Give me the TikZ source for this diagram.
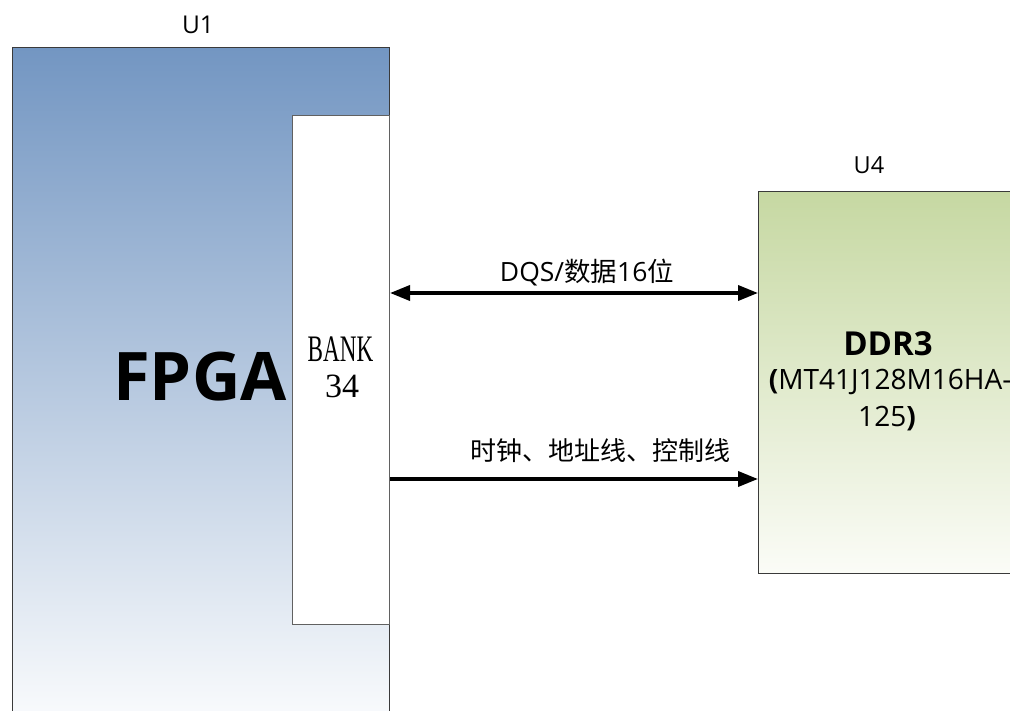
\documentclass[tikz,border=0pt]{standalone}
\usepackage{fontspec}
\setmainfont{Open Sans}
\newfontfamily\cjk{Noto Sans CJK SC}
\newfontfamily\serifbank{Liberation Serif}
\usetikzlibrary{arrows.meta}
\definecolor{fpgatop}{HTML}{7396C2}
\definecolor{ddrtop}{HTML}{C6D8A2}
\definecolor{ddrbot}{HTML}{FBFCF7}
\definecolor{edge}{HTML}{3A3A3A}
\tikzset{
  chipbox/.style={draw=edge, line width=1.4pt, rectangle, inner sep=0pt},
  bankbox/.style={draw=edge!80, line width=1pt, fill=white, rectangle, inner sep=0pt},
  lbl/.style={inner sep=0pt, anchor=base},
  bus/.style={line width=3.6pt, draw=black}
}
\begin{document}
\begin{tikzpicture}[x=1pt,y=-1pt]
\useasboundingbox (0,0) rectangle (1010,711);
\clip (0,0) rectangle (1010,711);
\fill[white] (0,0) rectangle (1010,711);
% U1 FPGA
\node[chipbox, top color=fpgatop, bottom color=white, minimum width=377pt, minimum height=700pt, anchor=north west] (u1) at (12,47) {};
\node[bankbox, minimum width=97pt, minimum height=509pt, anchor=north west] (bank) at (292,115) {};
% DDR3
\node[chipbox, top color=ddrtop, bottom color=ddrbot, minimum width=262pt, minimum height=382pt, anchor=north west] (ddr) at (758,191) {};
% labels
\node[lbl] (u1lbl) at (198,34) {\fontsize{24.5}{28}\selectfont U1};
\node[lbl] (u4lbl) at (869,174) {\fontsize{23.5}{27}\selectfont U4};
\node[lbl] (fpga) at (200,400) {\fontsize{67}{70}\selectfont\bfseries FPGA};
\node[lbl] (bank1) at (340.5,362) {\serifbank\fontsize{34}{36}\selectfont\scalebox{0.68}[1.1]{BANK}};
\node[lbl] (bank2) at (342,398) {\serifbank\fontsize{34}{36}\selectfont 34};
\node[lbl] (ddr1) at (888,356) {\fontsize{33}{36}\selectfont\bfseries DDR3};
\node[lbl] (ddr2) at (890,390) {\fontsize{28}{30}\selectfont\textbf{(}MT41J128M16HA-};
\node[lbl] (ddr3) at (887,426) {\fontsize{28}{30}\selectfont 125\textbf{)}};
% buses
\coordinate (ydq) at (0,293);
\coordinate (yck) at (0,479);
\draw[bus, {Triangle[length=20pt,width=15pt]}-{Triangle[length=20pt,width=15pt]}] (bank.east |- ydq) -- (ddr.west |- ydq);
\draw[bus, -{Triangle[length=20pt,width=15pt]}] (bank.east |- yck) -- (ddr.west |- yck);
\node[lbl] (dqlbl) at (587,282) {\fontsize{26.5}{30}\selectfont DQS/{\cjk 数据}16{\cjk 位}};
\node[lbl] (cklbl) at (600,460) {\fontsize{26}{30}\selectfont\cjk 时钟、地址线、控制线};
\end{tikzpicture}
\end{document}
